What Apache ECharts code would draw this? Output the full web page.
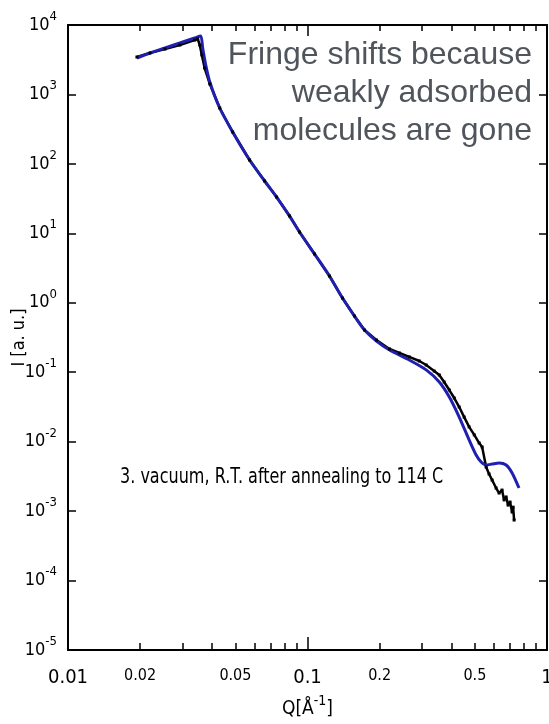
<!DOCTYPE html>
<html>
<head>
<meta charset="utf-8">
<script src="https://cdn.jsdelivr.net/npm/echarts@6/dist/echarts.min.js"></script>
<style>
  html, body { margin: 0; padding: 0; background: #fff; }
  #chart { width: 549px; height: 724px; }
</style>
</head>
<body>
<div id="chart"></div>
<script>
// measured curve: black dots
const qData = [0.0194, 0.0220, 0.0254, 0.0293, 0.0338, 0.0348, 0.0355, 0.0362, 0.0372, 0.0391,
  0.0430, 0.0487, 0.0573, 0.0662, 0.0743, 0.0841, 0.0926, 0.107, 0.1235, 0.140,
  0.157, 0.173, 0.194, 0.220, 0.242, 0.266, 0.293, 0.313, 0.338, 0.355,
  0.372, 0.391, 0.410, 0.430, 0.451, 0.473, 0.497, 0.521, 0.536, 0.557,
  0.573, 0.590, 0.613, 0.631, 0.649, 0.662, 0.675, 0.688, 0.701, 0.715, 0.722, 0.729];
const iData = [3460, 3950, 4510, 5150, 6080, 6290, 5150, 3700, 2400, 1414,
  638, 288, 113.7, 56.7, 33.3, 17.8, 10.45, 5.04, 2.43, 1.17,
  0.645, 0.405, 0.291, 0.216, 0.189, 0.166, 0.145, 0.127, 0.104, 0.0912,
  0.0723, 0.0554, 0.0425, 0.0315, 0.0226, 0.0163, 0.0125, 0.00956, 0.00837, 0.00431,
  0.00342, 0.0028, 0.00215, 0.00182, 0.00201, 0.00145, 0.0016, 0.00122, 0.00135, 0.00097, 0.00114, 0.000744];

// fit curve: blue line
const qFit = [0.0194, 0.0220, 0.0254, 0.0293, 0.0338, 0.0358, 0.0365, 0.0376, 0.0391, 0.0430,
  0.0487, 0.0573, 0.0662, 0.0743, 0.0841, 0.0926, 0.107, 0.1235, 0.140, 0.157,
  0.173, 0.194, 0.220, 0.266, 0.313, 0.355, 0.391, 0.430, 0.473, 0.506,
  0.531, 0.557, 0.590, 0.631, 0.675, 0.715, 0.764];
const iFit = [3348, 3952, 4666, 5506, 6500, 6945, 4666, 2655, 1511, 638,
  288, 113.7, 56.7, 33.3, 17.8, 10.45, 5.04, 2.43, 1.17, 0.645,
  0.405, 0.281, 0.209, 0.150, 0.108, 0.0723, 0.0439, 0.0226, 0.0106, 0.00642,
  0.00509, 0.00461, 0.00476, 0.00493, 0.00461, 0.00354, 0.00215];

const xLabels = [0.01, 0.02, 0.05, 0.1, 0.2, 0.5, 1];
const xMinorTicks = [0.02, 0.03, 0.04, 0.05, 0.06, 0.07, 0.08, 0.09, 0.2, 0.3, 0.4, 0.5, 0.6, 0.7, 0.8, 0.9];
const xMajorTicks = [0.1];
const yTicks = [1e-5, 1e-4, 1e-3, 1e-2, 1e-1, 1, 10, 100, 1000, 10000];

const narrow = "'DejaVu Sans Condensed', 'Liberation Sans Narrow', 'DejaVu Sans', sans-serif";

const chart = echarts.init(document.getElementById('chart'));

const pairs = (xs, ys) => xs.map((x, i) => [x, ys[i]]);

const baseX = {
  type: 'log', min: 0.01, max: 1, splitLine: { show: false }
};
const baseY = {
  type: 'log', min: 1e-5, max: 1e4, splitLine: { show: false }
};

const option = {
  animation: false,
  grid: { left: 68, right: 2, top: 25, bottom: 74, outerBoundsMode: 'none', containLabel: false },
  xAxis: [{
    ...baseX,
    position: 'bottom',
    axisLine: { lineStyle: { color: '#000', width: 2 } },
    axisTick: { inside: true, length: 7, customValues: xMinorTicks, lineStyle: { color: '#000', width: 1.5 } },
    axisLabel: {
      customValues: xLabels,
      margin: 18,
      formatter: v => (v === 0.01 || v === 0.1 || v === 1) ? '{big|' + v + '}' : '{small|' + v + '}',
      rich: {
        big: { fontFamily: narrow, fontSize: 20, color: '#000' },
        small: { fontFamily: narrow, fontSize: 16, color: '#000' }
      }
    },
    name: '{b|Q[Å}{s|-1}{b|]}',
    nameLocation: 'middle',
    nameGap: 44,
    nameTextStyle: {
      rich: {
        b: { fontFamily: narrow, fontSize: 19, color: '#000', lineHeight: 30 },
        s: { fontFamily: narrow, fontSize: 14, color: '#000', lineHeight: 16, verticalAlign: 'top' }
      }
    }
  }, {
    ...baseX,
    position: 'bottom',
    axisLine: { show: false },
    axisTick: { inside: true, length: 13, customValues: xMajorTicks, lineStyle: { color: '#000', width: 1.5 } },
    axisLabel: { show: false }
  }, {
    ...baseX,
    position: 'top',
    axisLine: { lineStyle: { color: '#000', width: 2 } },
    axisTick: { inside: true, length: 6, customValues: xMinorTicks, lineStyle: { color: '#000', width: 1.5 } },
    axisLabel: { show: false }
  }, {
    ...baseX,
    position: 'top',
    axisLine: { show: false },
    axisTick: { inside: true, length: 11, customValues: xMajorTicks, lineStyle: { color: '#000', width: 1.5 } },
    axisLabel: { show: false }
  }],
  yAxis: [{
    ...baseY,
    position: 'left',
    axisLine: { lineStyle: { color: '#000', width: 2 } },
    axisTick: { inside: true, length: 8, customValues: yTicks, lineStyle: { color: '#000', width: 1.5 } },
    axisLabel: {
      customValues: yTicks,
      margin: 11,
      formatter: v => '{b|10}{s|' + Math.round(Math.log10(v)) + '}',
      rich: {
        b: { fontFamily: narrow, fontSize: 18, color: '#000', lineHeight: 30 },
        s: { fontFamily: narrow, fontSize: 13, color: '#000', lineHeight: 15, verticalAlign: 'top' }
      }
    },
    name: 'I [a. u.]',
    nameLocation: 'middle',
    nameGap: 40,
    nameMoveOverlap: false,
    nameTextStyle: { fontFamily: narrow, fontSize: 18, color: '#000' }
  }, {
    ...baseY,
    position: 'right',
    axisLine: { lineStyle: { color: '#000', width: 2 } },
    axisTick: { inside: true, length: 8, customValues: yTicks, lineStyle: { color: '#000', width: 1.5 } },
    axisLabel: { show: false }
  }],
  series: [{
    name: 'data',
    type: 'line',
    xAxisIndex: 0,
    yAxisIndex: 0,
    data: pairs(qData, iData),
    symbol: 'rect',
    symbolSize: 3,
    showSymbol: true,
    itemStyle: { color: '#000' },
    lineStyle: { color: '#000', width: 2.5 }
  }, {
    name: 'fit',
    type: 'line',
    xAxisIndex: 0,
    yAxisIndex: 0,
    data: pairs(qFit, iFit),
    showSymbol: false,
    smooth: 0.25,
    lineStyle: { color: '#2020b0', width: 3 }
  }],
  graphic: [{
    type: 'text',
    x: 532,
    y: 36,
    style: {
      text: 'Fringe shifts because\nweakly adsorbed\nmolecules are gone',
      align: 'right',
      verticalAlign: 'top',
      font: "32px 'Liberation Sans', Arial, sans-serif",
      lineHeight: 38,
      fill: '#50555c'
    }
  }, {
    type: 'text',
    x: 120,
    y: 477,
    scaleX: 0.81,
    style: {
      text: '3. vacuum, R.T. after annealing to 114 C',
      align: 'left',
      verticalAlign: 'middle',
      font: "22px " + narrow,
      fill: '#000'
    }
  }]
};

chart.setOption(option);
</script>
</body>
</html>
